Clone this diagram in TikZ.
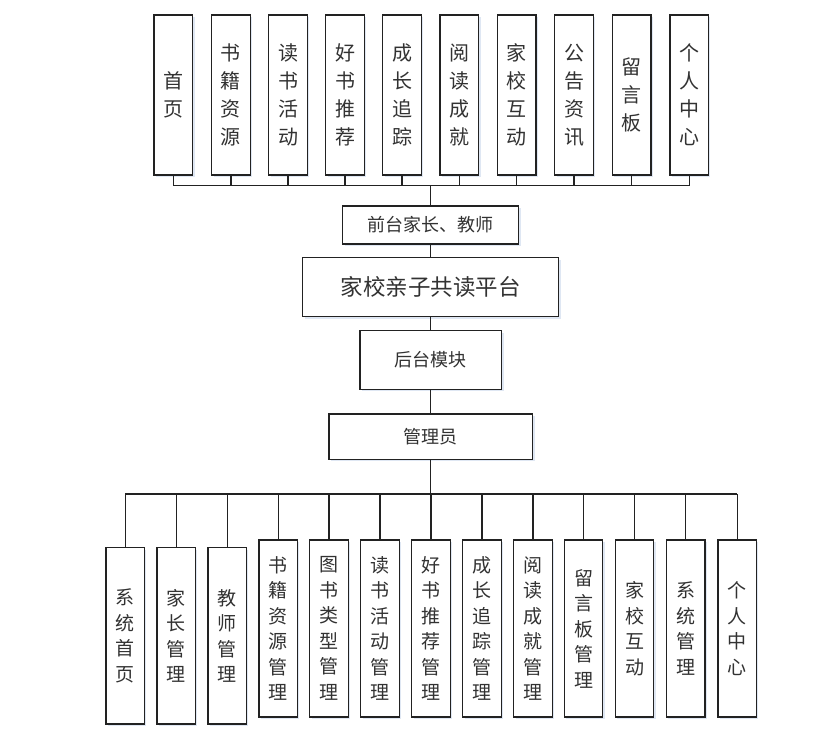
\documentclass[tikz,border=0pt]{standalone}
\usepackage{fontspec}
\newfontfamily\cjk{Noto Sans CJK SC}
\usetikzlibrary{shadows}
\definecolor{linec}{RGB}{34,34,34}
\definecolor{textc}{RGB}{50,50,50}
\definecolor{shadc}{RGB}{215,225,240}
\tikzset{
  boxbase/.style={draw=linec, line width=1.3pt, fill=white, inner sep=0pt, text=textc, align=center,
    drop shadow={shadow xshift=2pt, shadow yshift=-2pt, fill=shadc, opacity=0.8}},
  tbox/.style={boxbase, minimum width=38.5pt, minimum height=160pt, font=\cjk\fontsize{20}{28}\selectfont},
  bbox/.style={boxbase, minimum width=38.5pt, minimum height=177pt, font=\cjk\fontsize{19}{25.5}\selectfont},
  mbox/.style={boxbase, font=\cjk\fontsize{18}{22}\selectfont},
  conn/.style={draw=linec, line width=1.3pt}
}
\begin{document}
\begin{tikzpicture}[x=1pt,y=-1pt]
\useasboundingbox (0,0) rectangle (836,729);
% top modules
\node[tbox] (t1) at (173.3,95) {首\\页};
\node[tbox] (t2) at (230.9,95) {书\\籍\\资\\源};
\node[tbox] (t3) at (288,95) {读\\书\\活\\动};
\node[tbox] (t4) at (345,95) {好\\书\\推\\荐};
\node[tbox] (t5) at (402,95) {成\\长\\追\\踪};
\node[tbox] (t6) at (459.3,95) {阅\\读\\成\\就};
\node[tbox] (t7) at (516.7,95) {家\\校\\互\\动};
\node[tbox] (t8) at (574,95) {公\\告\\资\\讯};
\node[tbox] (t9) at (631.7,95) {留\\言\\板};
\node[tbox] (t10) at (689.2,95) {个\\人\\中\\心};
% middle
\node[mbox, minimum width=176pt, minimum height=38pt] (qt) at (430.7,225) {前台家长、教师};
\node[mbox, minimum width=256pt, minimum height=59pt, font=\cjk\fontsize{22.5}{26}\selectfont] (pt) at (430.7,287.2) {家校亲子共读平台};
\node[mbox, minimum width=141.7pt, minimum height=58.6pt] (ht) at (430.7,360) {后台模块};
\node[mbox, minimum width=203.7pt, minimum height=45.3pt] (gly) at (430.7,436.7) {管理员};
% bottom modules
\node[bbox, minimum height=176.3pt] (b1) at (125.2,635.9) {系\\统\\首\\页};
\node[bbox, minimum height=176.3pt] (b2) at (176.2,635.9) {家\\长\\管\\理};
\node[bbox, minimum height=176.3pt] (b3) at (227.2,635.9) {教\\师\\管\\理};
\node[bbox] (b4) at (278.2,628.5) {书\\籍\\资\\源\\管\\理};
\node[bbox] (b5) at (329,628.5) {图\\书\\类\\型\\管\\理};
\node[bbox] (b6) at (380,628.5) {读\\书\\活\\动\\管\\理};
\node[bbox] (b7) at (431,628.5) {好\\书\\推\\荐\\管\\理};
\node[bbox] (b8) at (482,628.5) {成\\长\\追\\踪\\管\\理};
\node[bbox] (b9) at (532.9,628.5) {阅\\读\\成\\就\\管\\理};
\node[bbox] (b10) at (583.5,628.5) {留\\言\\板\\管\\理};
\node[bbox] (b11) at (634.5,628.5) {家\\校\\互\\动};
\node[bbox] (b12) at (685.7,628.5) {系\\统\\管\\理};
\node[bbox] (b13) at (737.2,628.5) {个\\人\\中\\心};
% connectors top
\coordinate (busT) at (430.7,185.7);
\draw[conn] (t1.south |- busT) -- (t10.south |- busT);
\foreach \i in {1,...,10} { \draw[conn] (t\i.south) -- (t\i.south |- busT); }
\draw[conn] (busT) -- (qt.north);
\draw[conn] (qt.south) -- (pt.north);
\draw[conn] (pt.south) -- (ht.north);
\draw[conn] (ht.south) -- (gly.north);
% connectors bottom
\coordinate (busB) at (430.7,494);
\draw[conn] (gly.south) -- (busB);
\draw[conn] (b1.north |- busB) -- (b13.north |- busB);
\foreach \i in {1,...,13} { \draw[conn] (b\i.north |- busB) -- (b\i.north); }
\end{tikzpicture}
\end{document}
